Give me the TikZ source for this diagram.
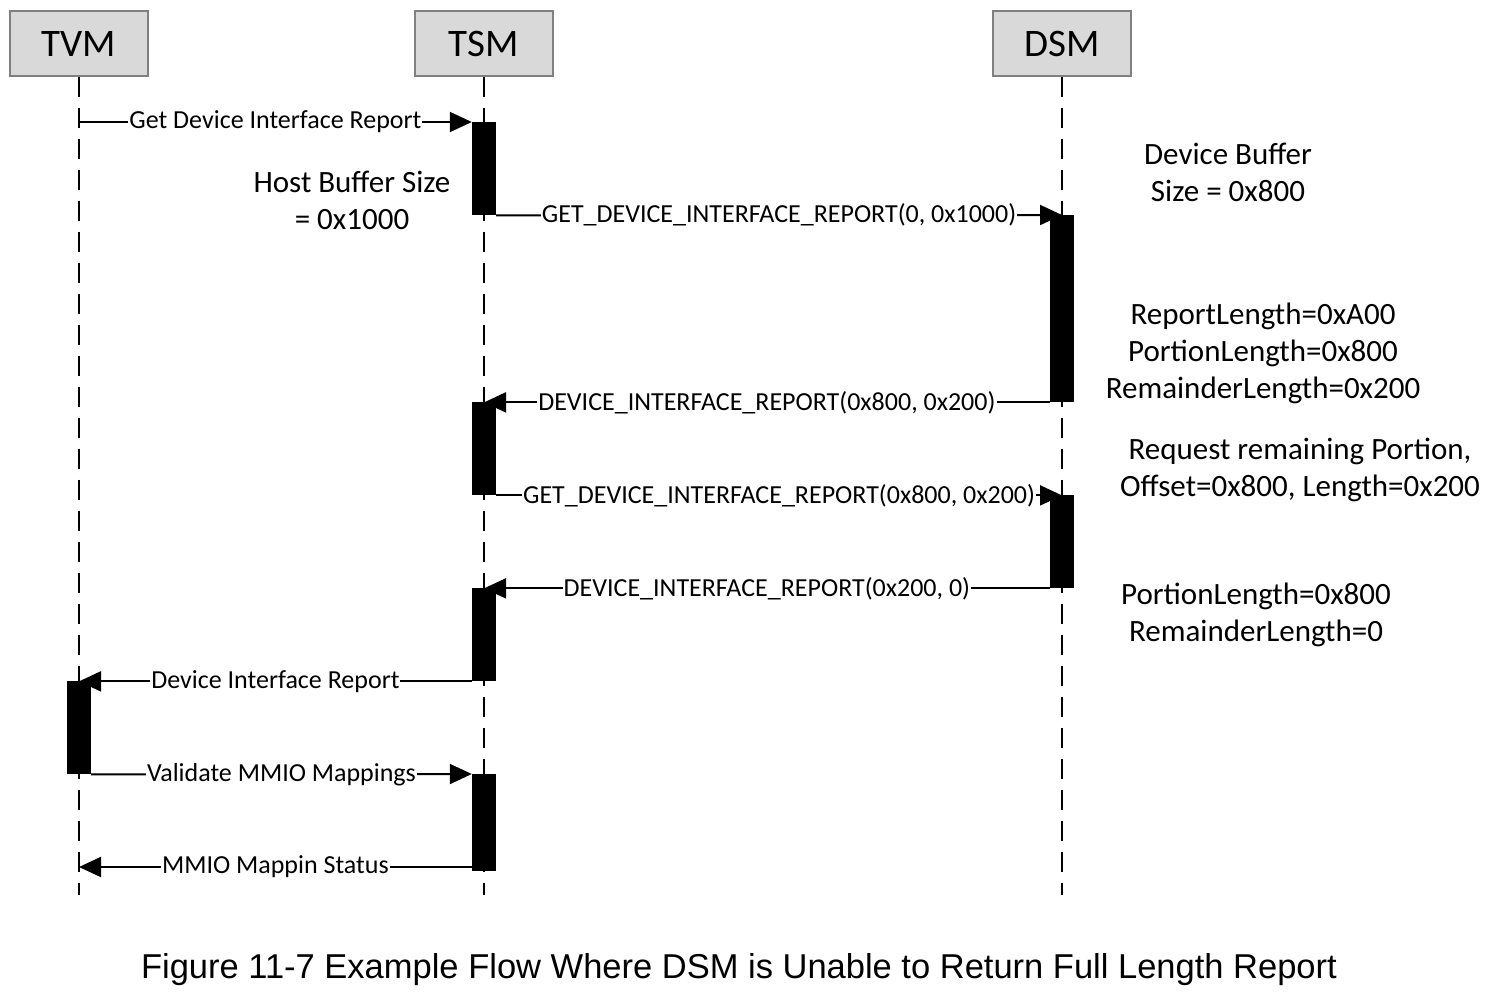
\documentclass[tikz,border=0pt]{standalone}
\usepackage{fontspec}
\setmainfont{Carlito}
\newfontfamily\captionfont{Liberation Sans}
\usetikzlibrary{arrows.meta, positioning}

\definecolor{boxfill}{RGB}{217,217,217}
\definecolor{boxline}{RGB}{128,128,128}

\tikzset{
	actor/.style={draw=boxline, fill=boxfill, line width=1.2pt, minimum width=138pt, minimum height=65pt, inner sep=0pt, font=\fontsize{39}{46}\selectfont},
	lifeline/.style={line width=2.5pt, dash pattern=on 20pt off 11pt},
	bar/.style={fill=black, minimum width=24pt, inner sep=0pt, anchor=north},
	msg/.style={line width=2pt, -{Triangle[length=22pt, width=20pt]}},
	lbl/.style={fill=white, inner xsep=1pt, inner ysep=2pt, font=\fontsize{26}{31}\selectfont},
	note/.style={align=center, font=\fontsize{31}{37}\selectfont},
}

\begin{document}
\begin{tikzpicture}[x=1pt, y=-1pt, node distance=405pt, on grid]
	\useasboundingbox (0,0) rectangle (1490,995);

	\node[actor] (tvm) at (79,43.5) {TVM};
	\node[actor] (tsm) [right=of tvm] {TSM};
	\node[actor] (dsm) [right=578pt of tsm] {DSM};

	\coordinate (tvm_end) at (tvm |- 0,895);
	\coordinate (tsm_end) at (tsm |- 0,895);
	\coordinate (dsm_end) at (dsm |- 0,895);
	\draw[lifeline] (tvm.south) -- (tvm_end);
	\draw[lifeline] (tsm.south) -- (tsm_end);
	\draw[lifeline] (dsm.south) -- (dsm_end);

	% activation bars
	\node[bar, minimum height=93pt] (b1) at (tsm |- 0,122) {};
	\node[bar, minimum height=187pt] (b2) at (dsm |- 0,215) {};
	\node[bar, minimum height=93pt] (b3) at (tsm |- 0,402) {};
	\node[bar, minimum height=93pt] (b4) at (dsm |- 0,495) {};
	\node[bar, minimum height=93pt] (b5) at (tsm |- 0,588) {};
	\node[bar, minimum height=93pt] (b6) at (tvm |- 0,681) {};
	\node[bar, minimum height=97pt] (b7) at (tsm |- 0,774) {};

	% messages
	\draw[msg] (tvm |- b1.north) -- node[lbl] {Get Device Interface Report} (b1.north west);
	\draw[msg] (b1.south east) -- node[lbl] {GET\_DEVICE\_INTERFACE\_REPORT(0, 0x1000)} (dsm |- b2.north);
	\draw[msg] (b2.south west) -- node[lbl] {DEVICE\_INTERFACE\_REPORT(0x800, 0x200)} (tsm |- b2.south);
	\draw[msg] (b3.south east) -- node[lbl] {GET\_DEVICE\_INTERFACE\_REPORT(0x800, 0x200)} (dsm |- b3.south);
	\draw[msg] (b4.south west) -- node[lbl] {DEVICE\_INTERFACE\_REPORT(0x200, 0)} (tsm |- b4.south);
	\draw[msg] (b5.south west) -- node[lbl] {Device Interface Report} (tvm |- b5.south);
	\draw[msg] (b6.south east) -- node[lbl] {Validate MMIO Mappings} (b7.north west);
	\draw[msg] (b7.south west |- 0,867) -- node[lbl] {MMIO Mappin Status} (tvm |- 0,867);

	% notes
	\node[note] (host_buf) at (352,200) {Host Buffer Size\\= 0x1000};
	\node[note] (dev_buf) at (1228,172) {Device Buffer\\Size = 0x800};
	\node[note] (first_len) at (1263,353) {ReportLength=0xA00\\PortionLength=0x800\\RemainderLength=0x200};
	\node[note] (req_rem) at (1300,470) {Request remaining Portion,\\Offset=0x800, Length=0x200};
	\node[note] (last_len) at (1256,615) {PortionLength=0x800\\RemainderLength=0};

	\node[font=\captionfont\fontsize{34.5}{40}\selectfont] (caption) at (739,970) {Figure 11-7 Example Flow Where DSM is Unable to Return Full Length Report};
\end{tikzpicture}
\end{document}
